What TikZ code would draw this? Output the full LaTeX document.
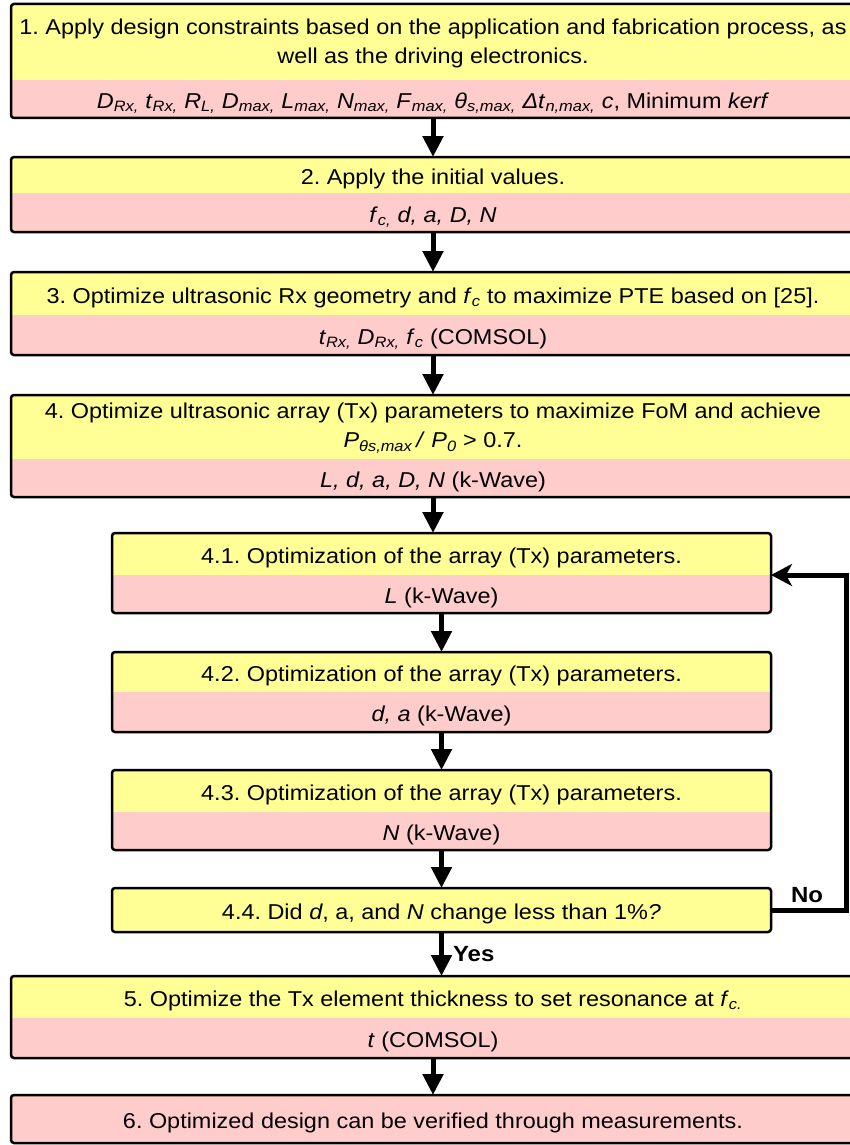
\documentclass[tikz,border=0pt]{standalone}
\usepackage{fontspec}
\setmainfont{Liberation Sans}[FakeStretch=1.09]
\usetikzlibrary{arrows.meta,fit,calc}
\definecolor{ylw}{RGB}{255,255,150}
\definecolor{pnk}{RGB}{255,204,204}
\newcommand\vv[2]{\textit{#1}\textsubscript{\textit{#2}}}
\frenchspacing
\tikzset{
  part/.style={inner sep=0pt, outer sep=0pt, anchor=north west, align=center, font=\fontsize{21.5}{29}\selectfont, text height=20.5pt, text depth=1pt},
  ypart/.style={part, fill=ylw},
  ppart/.style={part, fill=pnk},
  wide/.style={minimum width=844pt},
  narrow/.style={minimum width=659pt},
  twoline/.style={text depth=0pt},
  border/.style={draw, line width=2.5pt, rounded corners=3pt, inner sep=0pt, outer sep=0pt},
  arr/.style={line width=5pt, -{Triangle[width=20pt,length=21pt]}},
  looparr/.style={line width=5pt, line join=miter, -{Stealth[width=22pt,length=21pt,inset=6pt]}},
  lbl/.style={font=\fontsize{22}{26}\selectfont\bfseries, inner sep=0pt}
}
\begin{document}
\begin{tikzpicture}[x=1pt,y=-1pt]
\useasboundingbox (0,0) rectangle (850,1145);
\clip (0,0) rectangle (850,1145);
\fill[white] (0,0) rectangle (850,1145);

% Box 1
\node[ypart, wide, minimum height=76pt, twoline, text height=43.4pt] (b1y) at (11,4) {1. Apply design constraints based on the application and fabrication process, as\\ well as the driving electronics.};
\node[ppart, wide, minimum height=38pt] (b1p) at (b1y.south west) {\vv{D}{Rx,} \vv{t}{Rx,} \vv{R}{L,} \vv{D}{max,} \vv{L}{max,} \vv{N}{max,} \vv{F}{max,} \vv{θ}{s,max,} \vv{Δt}{n,max,} \textit{c}, Minimum \textit{kerf}};
\node[border, fit=(b1y)(b1p)] (b1) {};

% Box 2
\node[ypart, wide, minimum height=36pt] (b2y) at (11,157) {2. Apply the initial values.};
\node[ppart, wide, minimum height=39pt] (b2p) at (b2y.south west) {\vv{f}{c,} \textit{d, a, D, N}};
\node[border, fit=(b2y)(b2p)] (b2) {};

% Box 3
\node[ypart, wide, minimum height=43pt] (b3y) at (11,272) {3. Optimize ultrasonic Rx geometry and \vv{f}{c} to maximize PTE based on [25].};
\node[ppart, wide, minimum height=40pt] (b3p) at (b3y.south west) {\vv{t}{Rx,} \vv{D}{Rx,} \vv{f}{c} (COMSOL)};
\node[border, fit=(b3y)(b3p)] (b3) {};

% Box 4
\node[ypart, wide, minimum height=64pt, twoline, text height=41.4pt] (b4y) at (11,395) {4. Optimize ultrasonic array (Tx) parameters to maximize FoM and achieve\\ \vv{P}{θs,max}\,\textit{/} \vv{P}{0} > 0.7.};
\node[ppart, wide, minimum height=38pt] (b4p) at (b4y.south west) {\textit{L, d, a, D, N} (k-Wave)};
\node[border, fit=(b4y)(b4p)] (b4) {};

% Box 4.1
\node[ypart, narrow, minimum height=42pt] (b41y) at (112,533) {4.1. Optimization of the array (Tx) parameters.};
\node[ppart, narrow, minimum height=38pt] (b41p) at (b41y.south west) {\textit{L} (k-Wave)};
\node[border, fit=(b41y)(b41p)] (b41) {};

% Box 4.2
\node[ypart, narrow, minimum height=40pt] (b42y) at (112,652) {4.2. Optimization of the array (Tx) parameters.};
\node[ppart, narrow, minimum height=40pt] (b42p) at (b42y.south west) {\textit{d, a} (k-Wave)};
\node[border, fit=(b42y)(b42p)] (b42) {};

% Box 4.3
\node[ypart, narrow, minimum height=42pt] (b43y) at (112,770) {4.3. Optimization of the array (Tx) parameters.};
\node[ppart, narrow, minimum height=38pt] (b43p) at (b43y.south west) {\textit{N} (k-Wave)};
\node[border, fit=(b43y)(b43p)] (b43) {};

% Box 4.4
\node[ypart, narrow, minimum height=44pt] (b44y) at (112,888) {4.4. Did \textit{d}, a, and \textit{N} change less than 1\%\textit{?}};
\node[border, fit=(b44y)] (b44) {};

% Box 5
\node[ypart, wide, minimum height=42pt] (b5y) at (11,976) {5. Optimize the Tx element thickness to set resonance at \vv{f}{c.}};
\node[ppart, wide, minimum height=40pt] (b5p) at (b5y.south west) {\textit{t} (COMSOL)};
\node[border, fit=(b5y)(b5p)] (b5) {};

% Box 6
\node[ppart, wide, minimum height=48pt] (b6p) at (11,1095) {6. Optimized design can be verified through measurements.};
\node[border, fit=(b6p)] (b6) {};

% Arrows
\draw[arr] (b1) -- (b2);
\draw[arr] (b2) -- (b3);
\draw[arr] (b3) -- (b4);
\draw[arr] (b4.south) -- (b4.south |- b41.north);
\draw[arr] (b41) -- (b42);
\draw[arr] (b42) -- (b43);
\draw[arr] (b43) -- (b44);
\draw[arr] (b44.south) -- node[lbl, anchor=west, xshift=9pt] (yes) {Yes} (b44.south |- b5.north);
\draw[arr] (b5) -- (b6);

% Feedback loop
\coordinate (lp) at (846,0);
\draw[looparr] (b44.east) -- (b44.east -| lp) -- (lp |- b41y.south east) -- (b41y.south east);
\node[lbl] (no) at (807,895) {No};
\end{tikzpicture}
\end{document}
